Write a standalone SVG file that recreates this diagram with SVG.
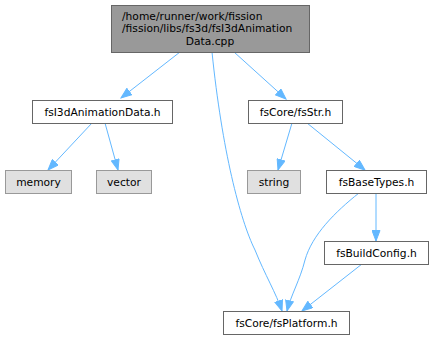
<svg xmlns="http://www.w3.org/2000/svg" width="433" height="340" viewBox="0 0 433 340">
<style>
.n rect{fill:#ffffff;stroke:#666666;stroke-width:1}
.n.g rect{fill:#999999;stroke:#666666}
.n.x rect{fill:#e0e0e0;stroke:#999999}
text{font-family:"DejaVu Sans","Liberation Sans",sans-serif;font-size:10.7px;fill:#000000}
.c{text-anchor:middle}
#edges path{fill:none;stroke:#63b8ff;stroke-width:1;marker-end:url(#ah)}
</style>
<defs>
<marker id="ah" markerUnits="userSpaceOnUse" markerWidth="12" markerHeight="9" refX="11" refY="4.5" orient="auto" viewBox="0 0 12 9">
<path d="M0.5,0.5 L11,4.5 L0.5,8.5 z" fill="#63b8ff" stroke="#63b8ff" stroke-width="1"/>
</marker>
</defs>
<rect width="433" height="340" fill="#ffffff"/>
<g id="edges">
<path d="M180,52 L121,98"/>
<path d="M234,52 L286,99"/>
<path d="M212,52 C222,150 240,220 255,250 C265,275 276,293 282,311"/>
<path d="M92,123 L48,170"/>
<path d="M105,123 L118,170"/>
<path d="M292,123 L278,170"/>
<path d="M307,123 L365,170"/>
<path d="M376,193 L376,241"/>
<path d="M359,193 C335,212 312,235 305,260 C300,280 291,295 287,311"/>
<path d="M362,264 L302,311"/>
</g>
<g id="node_main" class="n g">
<rect x="111.5" y="5.5" width="198" height="47"/>
<text x="122" y="19.5">/home/runner/work/fission</text>
<text x="122" y="32">/fission/libs/fs3d/fsI3dAnimation</text>
<text class="c" x="210" y="44.5">Data.cpp</text>
</g>
<g id="node_anim" class="n">
<rect x="32.5" y="100.5" width="140" height="23"/>
<text class="c" x="102.5" y="115.5">fsI3dAnimationData.h</text>
</g>
<g id="node_memory" class="n x">
<rect x="5.5" y="170.5" width="66" height="23"/>
<text class="c" x="38.5" y="185.5">memory</text>
</g>
<g id="node_vector" class="n x">
<rect x="96.5" y="170.5" width="55" height="23"/>
<text class="c" x="124" y="185.5">vector</text>
</g>
<g id="node_str" class="n">
<rect x="248.5" y="100.5" width="94" height="23"/>
<text class="c" x="295.5" y="115.5">fsCore/fsStr.h</text>
</g>
<g id="node_string" class="n x">
<rect x="247.5" y="170.5" width="53" height="23"/>
<text class="c" x="274" y="185.5">string</text>
</g>
<g id="node_basetypes" class="n">
<rect x="326.5" y="170.5" width="100" height="23"/>
<text class="c" x="376.5" y="185.5">fsBaseTypes.h</text>
</g>
<g id="node_buildconfig" class="n">
<rect x="324.5" y="241.5" width="104" height="23"/>
<text class="c" x="376.5" y="256.5">fsBuildConfig.h</text>
</g>
<g id="node_platform" class="n">
<rect x="223.5" y="311.5" width="126" height="23"/>
<text class="c" x="286.5" y="326.5">fsCore/fsPlatform.h</text>
</g>
</svg>
